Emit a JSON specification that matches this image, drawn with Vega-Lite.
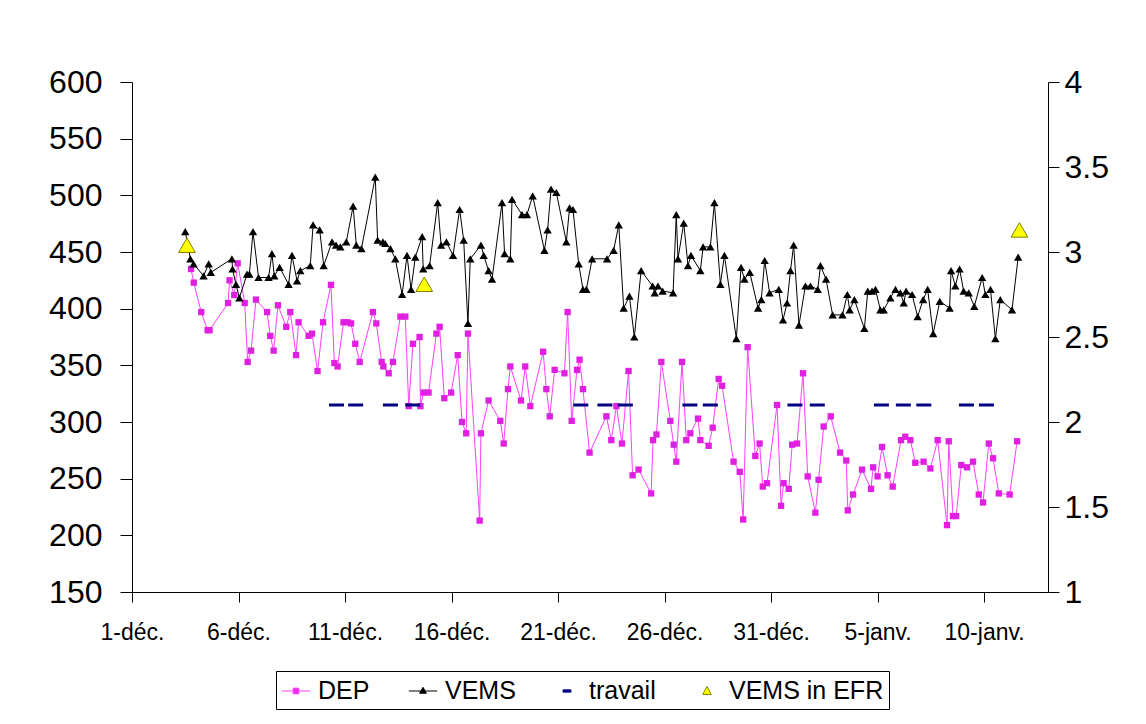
{
  "$schema": "https://vega.github.io/schema/vega-lite/v6.json",
  "width": 916,
  "height": 510,
  "autosize": {"type": "none"},
  "padding": {"left": 132, "top": 82, "right": 98, "bottom": 132},
  "background": "white",
  "config": {
    "view": {"stroke": null},
    "font": "Liberation Sans",
    "axis": {"domainColor": "#000", "tickColor": "#000", "labelColor": "#000", "grid": false, "domainWidth": 1, "tickWidth": 1, "labelFont": "Liberation Sans"},
    "legend": {
      "orient": "none", "legendX": 144, "legendY": 589, "direction": "horizontal",
      "strokeColor": "#000", "fillColor": "#fff", "padding": 5,
      "labelFontSize": 25, "labelFont": "Liberation Sans", "labelColor": "#000", "labelLimit": 300,
      "symbolSize": 800, "symbolStrokeWidth": 1, "columnPadding": 36, "labelOffset": 7, "symbolOpacity": 1
    }
  },
  "datasets": {
    "dep": [
      {"jour":2.77,"DEP":435},{"jour":2.9,"DEP":423},{"jour":3.25,"DEP":397},{"jour":3.55,"DEP":381},{"jour":3.64,"DEP":381},{"jour":4.51,"DEP":405},{"jour":4.58,"DEP":425},{"jour":4.8,"DEP":412},{"jour":4.96,"DEP":440},{"jour":5.29,"DEP":405},{"jour":5.43,"DEP":353},{"jour":5.59,"DEP":363},{"jour":5.82,"DEP":408},{"jour":6.34,"DEP":397},{"jour":6.49,"DEP":376},{"jour":6.65,"DEP":363},{"jour":6.85,"DEP":403},{"jour":7.24,"DEP":384},{"jour":7.43,"DEP":397},{"jour":7.7,"DEP":359},{"jour":7.82,"DEP":388},{"jour":8.29,"DEP":376},{"jour":8.45,"DEP":378},{"jour":8.71,"DEP":345},{"jour":8.97,"DEP":388},{"jour":9.34,"DEP":421},{"jour":9.5,"DEP":352},{"jour":9.65,"DEP":349},{"jour":9.93,"DEP":388},{"jour":10.12,"DEP":388},{"jour":10.28,"DEP":387},{"jour":10.48,"DEP":369},{"jour":10.69,"DEP":353},{"jour":11.31,"DEP":397},{"jour":11.47,"DEP":387},{"jour":11.72,"DEP":353},{"jour":11.8,"DEP":349},{"jour":12.05,"DEP":343},{"jour":12.25,"DEP":353},{"jour":12.6,"DEP":393},{"jour":12.83,"DEP":393},{"jour":12.99,"DEP":314},{"jour":13.19,"DEP":369},{"jour":13.5,"DEP":375},{"jour":13.54,"DEP":314},{"jour":13.69,"DEP":326},{"jour":13.92,"DEP":326},{"jour":14.29,"DEP":378},{"jour":14.44,"DEP":384},{"jour":14.66,"DEP":321},{"jour":14.98,"DEP":326},{"jour":15.29,"DEP":359},{"jour":15.49,"DEP":300},{"jour":15.69,"DEP":290},{"jour":15.77,"DEP":378},{"jour":16.32,"DEP":213},{"jour":16.38,"DEP":290},{"jour":16.74,"DEP":319},{"jour":17.29,"DEP":301},{"jour":17.45,"DEP":281},{"jour":17.65,"DEP":329},{"jour":17.76,"DEP":349},{"jour":18.26,"DEP":319},{"jour":18.46,"DEP":349},{"jour":18.7,"DEP":314},{"jour":19.3,"DEP":362},{"jour":19.45,"DEP":329},{"jour":19.61,"DEP":305},{"jour":19.84,"DEP":346},{"jour":20.3,"DEP":343},{"jour":20.45,"DEP":397},{"jour":20.64,"DEP":301},{"jour":20.89,"DEP":346},{"jour":21.01,"DEP":355},{"jour":21.17,"DEP":329},{"jour":21.48,"DEP":273},{"jour":22.27,"DEP":305},{"jour":22.5,"DEP":284},{"jour":22.74,"DEP":314},{"jour":23.0,"DEP":281},{"jour":23.31,"DEP":345},{"jour":23.5,"DEP":253},{"jour":23.78,"DEP":258},{"jour":24.37,"DEP":237},{"jour":24.46,"DEP":284},{"jour":24.62,"DEP":289},{"jour":24.85,"DEP":353},{"jour":25.27,"DEP":301},{"jour":25.43,"DEP":280},{"jour":25.55,"DEP":265},{"jour":25.82,"DEP":353},{"jour":26.02,"DEP":284},{"jour":26.21,"DEP":290},{"jour":26.57,"DEP":303},{"jour":26.68,"DEP":284},{"jour":27.07,"DEP":279},{"jour":27.26,"DEP":295},{"jour":27.54,"DEP":338},{"jour":27.7,"DEP":332},{"jour":28.24,"DEP":265},{"jour":28.53,"DEP":256},{"jour":28.69,"DEP":214},{"jour":28.9,"DEP":366},{"jour":29.26,"DEP":270},{"jour":29.46,"DEP":281},{"jour":29.61,"DEP":243},{"jour":29.81,"DEP":246},{"jour":30.28,"DEP":315},{"jour":30.47,"DEP":226},{"jour":30.59,"DEP":246},{"jour":30.83,"DEP":241},{"jour":30.99,"DEP":280},{"jour":31.22,"DEP":281},{"jour":31.5,"DEP":343},{"jour":31.72,"DEP":252},{"jour":32.08,"DEP":220},{"jour":32.23,"DEP":249},{"jour":32.47,"DEP":296},{"jour":32.8,"DEP":305},{"jour":33.24,"DEP":273},{"jour":33.53,"DEP":266},{"jour":33.6,"DEP":222},{"jour":33.85,"DEP":236},{"jour":34.27,"DEP":258},{"jour":34.69,"DEP":241},{"jour":34.79,"DEP":260},{"jour":35.0,"DEP":252},{"jour":35.21,"DEP":278},{"jour":35.47,"DEP":253},{"jour":35.71,"DEP":243},{"jour":36.1,"DEP":284},{"jour":36.3,"DEP":287},{"jour":36.54,"DEP":284},{"jour":36.77,"DEP":264},{"jour":37.16,"DEP":265},{"jour":37.48,"DEP":259},{"jour":37.82,"DEP":284},{"jour":38.26,"DEP":209},{"jour":38.34,"DEP":283},{"jour":38.54,"DEP":217},{"jour":38.69,"DEP":217},{"jour":38.93,"DEP":262},{"jour":39.2,"DEP":260},{"jour":39.48,"DEP":265},{"jour":39.75,"DEP":236},{"jour":39.95,"DEP":229},{"jour":40.22,"DEP":281},{"jour":40.42,"DEP":268},{"jour":40.69,"DEP":237},{"jour":41.2,"DEP":236},{"jour":41.55,"DEP":283}
    ],
    "vems": [
      {"jour":2.5,"VEMS":3.12},{"jour":2.74,"VEMS":2.96},{"jour":2.89,"VEMS":2.93},{"jour":3.36,"VEMS":2.86},{"jour":3.6,"VEMS":2.93},{"jour":3.7,"VEMS":2.88},{"jour":4.69,"VEMS":2.96},{"jour":4.72,"VEMS":2.9},{"jour":4.88,"VEMS":2.81},{"jour":5.04,"VEMS":2.73},{"jour":5.4,"VEMS":2.87},{"jour":5.51,"VEMS":2.87},{"jour":5.68,"VEMS":3.12},{"jour":5.94,"VEMS":2.85},{"jour":6.41,"VEMS":2.85},{"jour":6.57,"VEMS":2.99},{"jour":6.68,"VEMS":2.86},{"jour":6.93,"VEMS":2.91},{"jour":7.35,"VEMS":2.81},{"jour":7.51,"VEMS":2.98},{"jour":7.75,"VEMS":2.83},{"jour":7.9,"VEMS":2.89},{"jour":8.37,"VEMS":2.92},{"jour":8.5,"VEMS":3.16},{"jour":8.81,"VEMS":3.13},{"jour":9.0,"VEMS":2.92},{"jour":9.39,"VEMS":3.06},{"jour":9.58,"VEMS":3.04},{"jour":9.78,"VEMS":3.03},{"jour":10.06,"VEMS":3.06},{"jour":10.38,"VEMS":3.27},{"jour":10.53,"VEMS":3.04},{"jour":10.77,"VEMS":3.02},{"jour":11.42,"VEMS":3.44},{"jour":11.53,"VEMS":3.07},{"jour":11.78,"VEMS":3.06},{"jour":11.89,"VEMS":3.05},{"jour":12.13,"VEMS":3.02},{"jour":12.36,"VEMS":2.96},{"jour":12.68,"VEMS":2.75},{"jour":12.91,"VEMS":2.98},{"jour":13.1,"VEMS":2.78},{"jour":13.3,"VEMS":2.97},{"jour":13.62,"VEMS":3.09},{"jour":13.67,"VEMS":2.9},{"jour":13.97,"VEMS":2.92},{"jour":14.35,"VEMS":3.29},{"jour":14.51,"VEMS":3.04},{"jour":14.76,"VEMS":3.06},{"jour":15.07,"VEMS":2.98},{"jour":15.38,"VEMS":3.25},{"jour":15.57,"VEMS":3.07},{"jour":15.77,"VEMS":2.58},{"jour":15.88,"VEMS":2.96},{"jour":16.38,"VEMS":3.04},{"jour":16.51,"VEMS":2.98},{"jour":16.74,"VEMS":2.89},{"jour":16.9,"VEMS":2.84},{"jour":17.37,"VEMS":3.29},{"jour":17.49,"VEMS":2.99},{"jour":17.76,"VEMS":2.96},{"jour":17.84,"VEMS":3.31},{"jour":18.31,"VEMS":3.22},{"jour":18.54,"VEMS":3.22},{"jour":18.81,"VEMS":3.33},{"jour":19.36,"VEMS":3.01},{"jour":19.51,"VEMS":3.13},{"jour":19.67,"VEMS":3.37},{"jour":19.92,"VEMS":3.35},{"jour":20.39,"VEMS":3.06},{"jour":20.54,"VEMS":3.26},{"jour":20.7,"VEMS":3.25},{"jour":20.97,"VEMS":2.93},{"jour":21.17,"VEMS":2.78},{"jour":21.33,"VEMS":2.78},{"jour":21.6,"VEMS":2.96},{"jour":22.3,"VEMS":2.96},{"jour":22.61,"VEMS":3.01},{"jour":22.85,"VEMS":3.16},{"jour":23.08,"VEMS":2.67},{"jour":23.35,"VEMS":2.74},{"jour":23.58,"VEMS":2.5},{"jour":23.9,"VEMS":2.89},{"jour":24.44,"VEMS":2.8},{"jour":24.54,"VEMS":2.76},{"jour":24.69,"VEMS":2.8},{"jour":24.91,"VEMS":2.77},{"jour":25.4,"VEMS":2.76},{"jour":25.55,"VEMS":3.22},{"jour":25.63,"VEMS":2.96},{"jour":25.9,"VEMS":3.17},{"jour":26.1,"VEMS":2.92},{"jour":26.24,"VEMS":2.98},{"jour":26.68,"VEMS":2.89},{"jour":26.81,"VEMS":3.03},{"jour":27.15,"VEMS":3.03},{"jour":27.34,"VEMS":3.29},{"jour":27.62,"VEMS":2.81},{"jour":27.81,"VEMS":2.98},{"jour":28.37,"VEMS":2.49},{"jour":28.59,"VEMS":2.91},{"jour":28.75,"VEMS":2.84},{"jour":29.0,"VEMS":2.88},{"jour":29.39,"VEMS":2.67},{"jour":29.54,"VEMS":2.72},{"jour":29.7,"VEMS":2.95},{"jour":29.93,"VEMS":2.76},{"jour":30.36,"VEMS":2.78},{"jour":30.56,"VEMS":2.6},{"jour":30.75,"VEMS":2.7},{"jour":30.91,"VEMS":2.89},{"jour":31.06,"VEMS":3.04},{"jour":31.31,"VEMS":2.57},{"jour":31.61,"VEMS":2.8},{"jour":31.85,"VEMS":2.8},{"jour":32.19,"VEMS":2.78},{"jour":32.32,"VEMS":2.92},{"jour":32.58,"VEMS":2.84},{"jour":32.89,"VEMS":2.63},{"jour":33.35,"VEMS":2.63},{"jour":33.58,"VEMS":2.75},{"jour":33.69,"VEMS":2.66},{"jour":33.91,"VEMS":2.72},{"jour":34.38,"VEMS":2.55},{"jour":34.54,"VEMS":2.77},{"jour":34.74,"VEMS":2.77},{"jour":34.9,"VEMS":2.78},{"jour":35.13,"VEMS":2.66},{"jour":35.29,"VEMS":2.66},{"jour":35.6,"VEMS":2.73},{"jour":35.84,"VEMS":2.78},{"jour":36.07,"VEMS":2.76},{"jour":36.23,"VEMS":2.7},{"jour":36.34,"VEMS":2.77},{"jour":36.62,"VEMS":2.75},{"jour":36.88,"VEMS":2.62},{"jour":37.14,"VEMS":2.72},{"jour":37.35,"VEMS":2.78},{"jour":37.61,"VEMS":2.52},{"jour":37.92,"VEMS":2.71},{"jour":38.38,"VEMS":2.67},{"jour":38.45,"VEMS":2.89},{"jour":38.65,"VEMS":2.8},{"jour":38.85,"VEMS":2.9},{"jour":39.04,"VEMS":2.77},{"jour":39.28,"VEMS":2.76},{"jour":39.54,"VEMS":2.68},{"jour":39.91,"VEMS":2.85},{"jour":40.06,"VEMS":2.75},{"jour":40.3,"VEMS":2.78},{"jour":40.53,"VEMS":2.49},{"jour":40.76,"VEMS":2.72},{"jour":41.31,"VEMS":2.66},{"jour":41.6,"VEMS":2.97}
    ],
    "travail": [
      {"jour":9.6,"travail":2.1},{"jour":10.5,"travail":2.1},{"jour":12.13,"travail":2.1},{"jour":13.18,"travail":2.1},{"jour":21.07,"travail":2.1},{"jour":22.2,"travail":2.1},{"jour":23.16,"travail":2.1},{"jour":26.19,"travail":2.1},{"jour":27.15,"travail":2.1},{"jour":31.12,"travail":2.1},{"jour":32.17,"travail":2.1},{"jour":35.18,"travail":2.1},{"jour":36.21,"travail":2.1},{"jour":37.17,"travail":2.1},{"jour":39.17,"travail":2.1},{"jour":40.11,"travail":2.1}
    ],
    "efr": [
      {"jour":2.58,"VEMS":3.04},{"jour":13.72,"VEMS":2.81},{"jour":41.66,"VEMS":3.13}
    ]
  },
  "encoding": {
    "x": {
      "field": "jour", "type": "quantitative",
      "scale": {"domain": [0, 43], "nice": false, "zero": false},
      "axis": {
        "title": null, "values": [0, 5, 10, 15, 20, 25, 30, 35, 40],
        "labelExpr": "['1-déc.','6-déc.','11-déc.','16-déc.','21-déc.','26-déc.','31-déc.','5-janv.','10-janv.'][round(datum.value/5)]",
        "tickSize": 10, "labelFontSize": 23, "labelPadding": 19, "labelOverlap": false, "labelFlush": false
      }
    }
  },
  "layer": [
    {
      "data": {"name": "dep"},
      "encoding": {
        "y": {
          "field": "DEP", "type": "quantitative",
          "scale": {"domain": [150, 600], "nice": false, "zero": false},
          "axis": {"orient": "left", "title": null, "values": [150, 200, 250, 300, 350, 400, 450, 500, 550, 600], "format": "d", "tickSize": 12, "labelFontSize": 32, "labelPadding": 18, "labelOverlap": false}
        }
      },
      "layer": [
        {"mark": {"type": "line", "color": "#ff40ff", "strokeWidth": 1}},
        {"mark": {"type": "point", "shape": "square", "filled": true, "size": 40, "opacity": 1, "color": "#e020e0"}}
      ]
    },
    {
      "layer": [
        {
          "data": {"name": "vems"},
          "mark": {"type": "line", "color": "#000000", "strokeWidth": 1},
          "encoding": {
            "y": {"field": "VEMS", "type": "quantitative", "scale": {"domain": [1, 4], "nice": false, "zero": false},
              "axis": {"orient": "right", "title": null, "values": [1, 1.5, 2, 2.5, 3, 3.5, 4], "format": "~g", "tickSize": 11, "labelFontSize": 32, "labelPadding": 5, "labelOverlap": false}}
          }
        },
        {
          "data": {"name": "vems"},
          "mark": {"type": "point", "shape": "triangle-up", "filled": true, "size": 70, "opacity": 1, "color": "#000000"},
          "encoding": {
            "y": {"field": "VEMS", "type": "quantitative", "scale": {"domain": [1, 4], "nice": false, "zero": false},
              "axis": {"orient": "right", "title": null, "values": [1, 1.5, 2, 2.5, 3, 3.5, 4], "format": "~g", "tickSize": 11, "labelFontSize": 32, "labelPadding": 5, "labelOverlap": false}}
          }
        },
        {
          "data": {"name": "travail"},
          "mark": {"type": "tick", "orient": "horizontal", "size": 15, "thickness": 3, "opacity": 1, "color": "#000080"},
          "encoding": {
            "y": {"field": "travail", "type": "quantitative", "scale": {"domain": [1, 4], "nice": false, "zero": false},
              "axis": {"orient": "right", "title": null, "values": [1, 1.5, 2, 2.5, 3, 3.5, 4], "format": "~g", "tickSize": 11, "labelFontSize": 32, "labelPadding": 5, "labelOverlap": false}}
          }
        },
        {
          "data": {"name": "efr"},
          "mark": {"type": "point", "shape": "triangle-up", "filled": true, "size": 280, "opacity": 1, "fill": "#ffff00", "stroke": "#808000", "strokeWidth": 1},
          "encoding": {
            "y": {"field": "VEMS", "type": "quantitative", "scale": {"domain": [1, 4], "nice": false, "zero": false},
              "axis": {"orient": "right", "title": null, "values": [1, 1.5, 2, 2.5, 3, 3.5, 4], "format": "~g", "tickSize": 11, "labelFontSize": 32, "labelPadding": 5, "labelOverlap": false}}
          }
        },
        {
          "data": {"values": []},
          "mark": {"type": "point", "opacity": 1},
          "encoding": {
            "fill": {"datum": "DEP", "type": "nominal", "title": null,
              "scale": {"domain": ["DEP", "VEMS", "travail", "VEMS in EFR"], "range": ["#e020e0", "#000000", "#000080", "#ffff00"]}},
            "stroke": {"datum": "DEP", "type": "nominal", "title": null,
              "scale": {"domain": ["DEP", "VEMS", "travail", "VEMS in EFR"], "range": ["#ff40ff", "#000000", "#000080", "#808000"]}},
            "shape": {"datum": "DEP", "type": "nominal", "title": null,
              "scale": {"domain": ["DEP", "VEMS", "travail", "VEMS in EFR"], "range": ["M-1,0H1M-0.2,-0.2H0.2V0.2H-0.2Z", "M-1,0H1M0,-0.26L0.24,0.16H-0.24Z", "M-0.28,-0.08H0.28V0.08H-0.28Z", "M0,-0.32L0.3,0.24H-0.3Z"]}}
          }
        }
      ]
    }
  ],
  "resolve": {"scale": {"y": "independent"}}
}
